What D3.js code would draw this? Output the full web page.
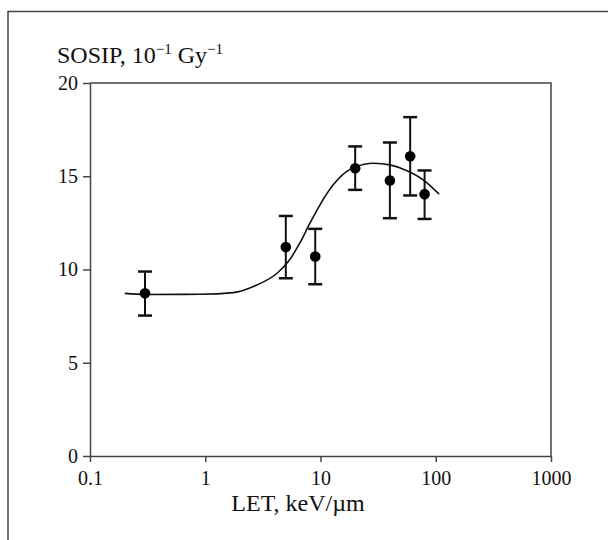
<!DOCTYPE html>
<html>
<head>
<meta charset="utf-8">
<script src="https://cdn.jsdelivr.net/npm/d3@7"></script>
<style>
  body { margin: 0; background: #fff; }
  text { font-family: "Liberation Serif", "Times New Roman", serif; fill: #111; }
</style>
</head>
<body>
<div id="chart"></div>
<script>
// measured points (LET in keV/um, SOSIP in 10^-1 Gy^-1)
const letValues = [0.3, 5, 9, 20, 40, 60, 80];
const sosip = [8.73, 11.2, 10.7, 15.43, 14.77, 16.07, 14.04];
const errHigh = [9.89, 12.87, 12.18, 16.6, 16.81, 18.17, 15.31];
const errLow = [7.53, 9.53, 9.21, 14.27, 12.75, 13.97, 12.71];

// fitted curve
const curveLet = [0.2, 0.3, 0.9, 1.75, 2.8, 4.2, 5.4, 6.6, 8.1, 9.9, 12.9, 16.8, 20.6, 28.7, 40, 55.7, 77.8, 107];
const curveVal = [8.72, 8.66, 8.67, 8.76, 9.17, 9.80, 10.52, 11.41, 12.48, 13.47, 14.54, 15.25, 15.52, 15.70, 15.61, 15.31, 14.81, 14.04];

const xTicks = [0.1, 1, 10, 100, 1000];
const xTickLabels = ["0.1", "1", "10", "100", "1000"];
const yTicks = [0, 5, 10, 15, 20];

const width = 608, height = 540;
const margin = {top: 83, right: 57, bottom: 84, left: 90};

const svg = d3.select("#chart")
    .append("svg")
    .attr("width", width)
    .attr("height", height);

// outer frame (only top and left edges are visible)
svg.append("path")
    .attr("d", `M8,${height} L8,11.5 L${width},11.5`)
    .attr("fill", "none")
    .attr("stroke", "#444")
    .attr("stroke-width", 1.5);

const x = d3.scaleLog()
    .domain([0.1, 1000])
    .range([margin.left, width - margin.right]);
const y = d3.scaleLinear()
    .domain([0, 20])
    .range([height - margin.bottom, margin.top]);

// plot box top and right
svg.append("path")
    .attr("d", `M${x(0.1)},${y(20)} L${x(1000)},${y(20)} L${x(1000)},${y(0)}`)
    .attr("fill", "none")
    .attr("stroke", "#444")
    .attr("stroke-width", 1.5);

const xAxis = svg.append("g")
    .attr("transform", `translate(0,${y(0)})`)
    .call(d3.axisBottom(x)
        .tickValues(xTicks)
        .tickFormat((d, i) => xTickLabels[i])
        .tickSize(6)
        .tickSizeOuter(0)
        .tickPadding(9));

const yAxis = svg.append("g")
    .attr("transform", `translate(${x(0.1)},0)`)
    .call(d3.axisLeft(y)
        .tickValues(yTicks)
        .tickSize(7)
        .tickSizeOuter(0)
        .tickPadding(5));

[xAxis, yAxis].forEach(g => {
    g.selectAll("path, line").attr("stroke", "#444").attr("stroke-width", 1.5);
    g.selectAll("text")
        .style("font-family", "'Liberation Serif', serif")
        .style("font-size", "20px")
        .attr("fill", "#111");
});

// axis titles
svg.append("text")
    .attr("x", 298)
    .attr("y", 511)
    .attr("text-anchor", "middle")
    .style("font-size", "24px")
    .text("LET, keV/\u00b5m");

const title = svg.append("text")
    .attr("x", 57)
    .attr("y", 63)
    .style("font-size", "24px");
title.append("tspan").text("SOSIP, 10");
title.append("tspan").attr("dy", -9).style("font-size", "15px").text("\u22121");
title.append("tspan").attr("dy", 9).text(" Gy");
title.append("tspan").attr("dy", -9).style("font-size", "15px").text("\u22121");

// fitted curve
const curvePts = curveLet.map((d, i) => [d, curveVal[i]]);
const line = d3.line()
    .x(d => x(d[0]))
    .y(d => y(d[1]))
    .curve(d3.curveMonotoneX);

svg.append("path")
    .datum(curvePts)
    .attr("fill", "none")
    .attr("stroke", "#111")
    .attr("stroke-width", 1.6)
    .attr("d", line);

// error bars + points
const cap = 7;
letValues.forEach((l, i) => {
    const cx = x(l);
    svg.append("line")
        .attr("x1", cx).attr("x2", cx)
        .attr("y1", y(errHigh[i])).attr("y2", y(errLow[i]))
        .attr("stroke", "#111").attr("stroke-width", 2);
    [errHigh[i], errLow[i]].forEach(v => {
        svg.append("line")
            .attr("x1", cx - cap).attr("x2", cx + cap)
            .attr("y1", y(v)).attr("y2", y(v))
            .attr("stroke", "#111").attr("stroke-width", 2.5);
    });
    svg.append("circle")
        .attr("cx", cx)
        .attr("cy", y(sosip[i]))
        .attr("r", 5.3)
        .attr("fill", "#000");
});
</script>
</body>
</html>
